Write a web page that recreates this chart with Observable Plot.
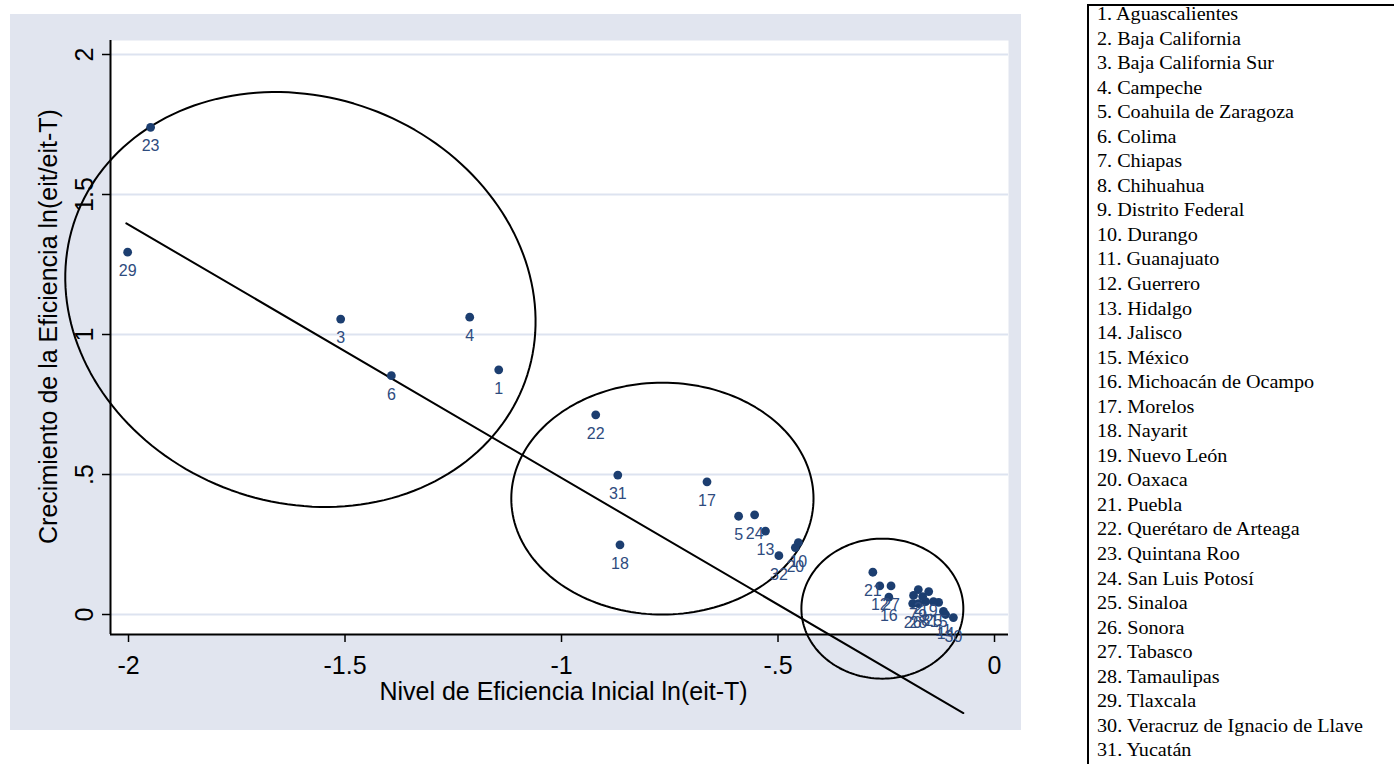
<!DOCTYPE html>
<html>
<head>
<meta charset="utf-8">
<script src="https://cdn.jsdelivr.net/npm/d3@7"></script>
<script src="https://cdn.jsdelivr.net/npm/@observablehq/plot@0.6"></script>
<style>
html, body { margin: 0; padding: 0; background: #ffffff; width: 1394px; height: 764px; overflow: hidden; }
#panel { position: absolute; left: 10px; top: 14px; }
#legend { position: absolute; left: 1087px; top: 4px; width: 307px; height: 760px;
  border-top: 2px solid #000; border-left: 2px solid #000; box-sizing: border-box; padding: 0 0 0 8px; overflow: hidden; }
#legend .items { margin-top: -4px; }
#legend .item { font-family: "Liberation Serif", "Times New Roman", serif; font-size: 18px; line-height: 24.55px;
  white-space: nowrap; color: #000; transform-origin: left center; transform: scaleX(1.12); }
</style>
</head>
<body>
<div id="panel"></div>
<div id="legend"><div class="items"></div></div>
<script>
// ---- Data ----
const ids = [1,2,3,4,5,6,7,8,9,10,11,12,13,14,15,16,17,18,19,20,21,22,23,24,25,26,27,28,29,30,31,32];
const stateNames = [
  "Aguascalientes", "Baja California", "Baja California Sur", "Campeche", "Coahuila de Zaragoza",
  "Colima", "Chiapas", "Chihuahua", "Distrito Federal", "Durango", "Guanajuato", "Guerrero",
  "Hidalgo", "Jalisco", "México", "Michoacán de Ocampo", "Morelos", "Nayarit", "Nuevo León",
  "Oaxaca", "Puebla", "Querétaro de Arteaga", "Quintana Roo", "San Luis Potosí", "Sinaloa",
  "Sonora", "Tabasco", "Tamaulipas", "Tlaxcala", "Veracruz de Ignacio de Llave", "Yucatán"
];
// Nivel de eficiencia inicial ln(eit-T)
const nivel = [-1.145, -0.176, -1.510, -1.212, -0.591, -1.393, -0.187, -0.159, -0.166, -0.453,
  -0.118, -0.265, -0.529, -0.113, -0.129, -0.244, -0.664, -0.865, -0.152, -0.460,
  -0.281, -0.921, -1.949, -0.554, -0.141, -0.189, -0.239, -0.176, -2.002, -0.095,
  -0.870, -0.498];
// Crecimiento de la eficiencia ln(eit/eit-T)
const crecimiento = [0.874, 0.089, 1.055, 1.062, 0.351, 0.853, 0.068, 0.046, 0.064, 0.257,
  0.011, 0.102, 0.298, 0.000, 0.043, 0.062, 0.474, 0.249, 0.082, 0.239,
  0.151, 0.713, 1.740, 0.356, 0.046, 0.039, 0.102, 0.039, 1.294, -0.011,
  0.498, 0.210];

// Fitted line endpoints (data units)
const lineX = [-2.005, -0.072];
const lineY = [1.397, -0.352];

// Ellipse annotations: centre and two half-axis vectors (data units)
const ellCx = [-1.603, -0.767, -0.259];
const ellCy = [1.125, 0.414, 0.021];
const ellUx = [0.519, 0.349, 0.187];
const ellUy = [-0.292, 0, 0];
const ellVx = [-0.160, 0, 0];
const ellVy = [-0.681, 0.414, 0.25];

const xTicks = [-2, -1.5, -1, -0.5, 0];
const xTickLabels = ["-2", "-1.5", "-1", "-.5", "0"];
const yTicks = [0, 0.5, 1, 1.5, 2];
const yTickLabels = ["0", ".5", "1", "1.5", "2"];
const xTitle = "Nivel de Eficiencia Inicial ln(eit-T)";
const yTitle = "Crecimiento de la Eficiencia ln(eit/eit-T)";

const xDomain = [-2.0416, 0.0323];
const yDomain = [-0.0714, 2.05];

// ---- Build ----
const points = ids.map((id, i) => ({id, x: nivel[i], y: crecimiento[i]}));
const fitLine = lineX.map((x, i) => ({x, y: lineY[i]}));
const ellipsePts = ellCx.flatMap((cx, k) =>
  d3.range(0, 361, 2).map(a => {
    const t = a * Math.PI / 180;
    return {k,
      x: cx + ellUx[k] * Math.cos(t) + ellVx[k] * Math.sin(t),
      y: ellCy[k] + ellUy[k] * Math.cos(t) + ellVy[k] * Math.sin(t)};
  }));

const navy = "#1c3e70";
const axisFont = 25;
const chart = Plot.plot({
  width: 1011, height: 716,
  marginLeft: 100, marginRight: 13, marginTop: 26, marginBottom: 96,
  x: {domain: xDomain},
  y: {domain: yDomain},
  style: {background: "#e1e5ef", fontFamily: "'Liberation Sans', Arial, sans-serif", overflow: "visible"},
  marks: [
    Plot.frame({fill: "white", stroke: "none"}),
    Plot.ruleY(yTicks, {stroke: "#dde3f0", strokeWidth: 2}),
    Plot.ruleX([xDomain[0]], {stroke: "black", strokeWidth: 2}),
    Plot.ruleY([yDomain[0]], {stroke: "black", strokeWidth: 2}),
    Plot.axisX({ticks: xTicks, tickSize: 8, tickFormat: () => "", label: null, stroke: "black", strokeWidth: 1.5}),
    Plot.axisY({ticks: yTicks, tickSize: 8, tickFormat: () => "", label: null, stroke: "black", strokeWidth: 1.5}),
    Plot.text(xTicks, {x: d => d, frameAnchor: "bottom", dy: 31, lineAnchor: "middle",
      text: (d, i) => xTickLabels[i], fontSize: axisFont, fill: "black"}),
    Plot.text(yTicks, {y: d => d, frameAnchor: "left", dx: -18, rotate: -90, textAnchor: "middle",
      lineAnchor: "bottom", text: (d, i) => yTickLabels[i], fontSize: axisFont, fill: "black"}),
    Plot.text([xTitle], {frameAnchor: "bottom", dy: 57, dx: 4, lineAnchor: "middle", text: d => d, fontSize: axisFont, fill: "black"}),
    Plot.text([yTitle], {frameAnchor: "left", dx: -62, dy: -11, rotate: -90, textAnchor: "middle",
      lineAnchor: "middle", text: d => d, fontSize: axisFont, fill: "black"}),
    Plot.line(ellipsePts, {x: "x", y: "y", z: "k", stroke: "black", strokeWidth: 2}),
    Plot.line(fitLine, {x: "x", y: "y", stroke: "black", strokeWidth: 2}),
    Plot.dot(points, {x: "x", y: "y", r: 4.4, fill: navy, stroke: "none"}),
    Plot.text(points, {x: "x", y: "y", text: d => String(d.id), dy: 19, lineAnchor: "middle",
      fontSize: 16, fill: "#2e4b7e"})
  ]
});
document.getElementById("panel").appendChild(chart);
chart.querySelectorAll("text").forEach(t => {
  if (t.textContent.length <= 2 && /^\d+$/.test(t.textContent) && t.getAttribute("font-size") === "16") {
    t.setAttribute("letter-spacing", "1");
  }
});

const items = document.querySelector("#legend .items");
stateNames.forEach((n, i) => {
  const div = document.createElement("div");
  div.className = "item";
  div.textContent = `${i + 1}. ${n}`;
  items.appendChild(div);
});
</script>
</body>
</html>
